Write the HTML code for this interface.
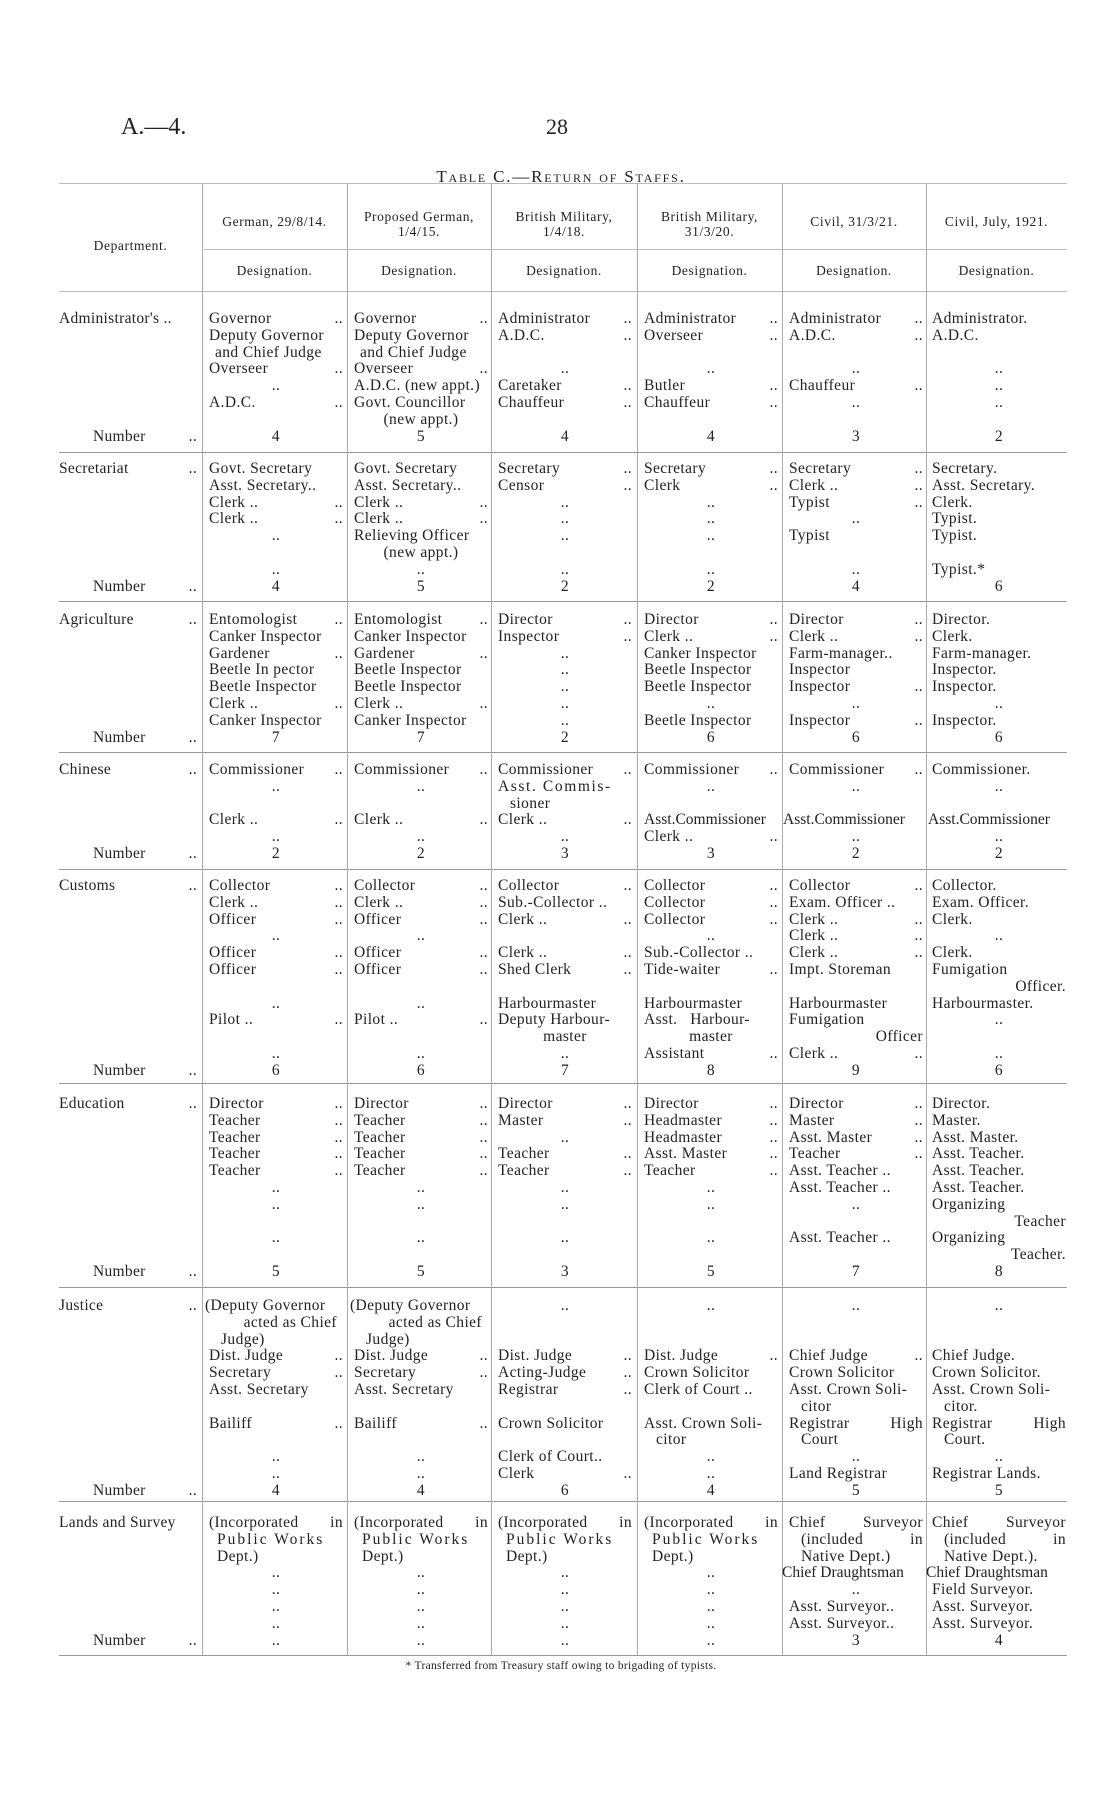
<!DOCTYPE html>
<html><head><meta charset="utf-8"><style>
body{margin:0;background:#fff;}
#p{position:relative;width:1114px;height:1809px;overflow:hidden;background:#fff;font-family:"Liberation Serif",serif;color:#222;}
.a{position:absolute;}
.cell{position:absolute;width:134px;font-size:15.5px;letter-spacing:0.4px;margin-top:3px;}
.d{position:absolute;left:59px;width:138px;font-size:15.5px;letter-spacing:0.3px;margin-top:3px;}
.l{height:16.8px;line-height:16.8px;white-space:nowrap;}
.l i{float:right;font-style:normal;}
.c{text-align:center;}
.r{text-align:right;}
.in{padding-left:12px;}
.h{background:#999;height:1px;position:absolute;}
.v{background:#aaa;width:1px;position:absolute;top:183px;height:1472px;}
.hd{position:absolute;font-size:13.5px;text-align:center;line-height:15px;letter-spacing:0.6px;}
.c1{left:209px}.c2{left:354px}.c3{left:498px}.c4{left:644px}.c5{left:789px}.c6{left:932px}
</style></head><body><div id="p">
<div class="a" style="left:121px;top:114px;font-size:24px;">A.—4.</div>
<div class="a" style="left:546px;top:114px;font-size:22px;">28</div>
<div class="a" style="left:0;width:1122px;top:167px;text-align:center;font-size:17px;font-variant:small-caps;letter-spacing:1.8px;">Table C.—Return of Staffs.</div>

<div class="h" style="left:59px;width:1008px;top:183px;background:#bbb"></div>
<div class="h" style="left:204px;width:863px;top:249px;background:#bbb"></div>
<div class="h" style="left:59px;width:1008px;top:291px;background:#bbb"></div>
<div class="h" style="left:59px;width:1008px;top:452px"></div>
<div class="h" style="left:59px;width:1008px;top:601px"></div>
<div class="h" style="left:59px;width:1008px;top:752px"></div>
<div class="h" style="left:59px;width:1008px;top:869px"></div>
<div class="h" style="left:59px;width:1008px;top:1083px"></div>
<div class="h" style="left:59px;width:1008px;top:1287px"></div>
<div class="h" style="left:59px;width:1008px;top:1501px"></div>
<div class="h" style="left:59px;width:1008px;top:1655px"></div>
<div class="v" style="left:202px"></div><div class="v" style="left:347px"></div><div class="v" style="left:491px"></div><div class="v" style="left:637px"></div><div class="v" style="left:782px"></div><div class="v" style="left:926px"></div>

<div class="hd" style="left:59px;width:143px;top:238px;">Department.</div>
<div class="hd" style="left:202px;width:145px;top:214px;">German, 29/8/14.</div>
<div class="hd" style="left:347px;width:144px;top:209px;">Proposed German,<br>1/4/15.</div>
<div class="hd" style="left:491px;width:146px;top:209px;">British Military,<br>1/4/18.</div>
<div class="hd" style="left:637px;width:145px;top:209px;">British Military,<br>31/3/20.</div>
<div class="hd" style="left:782px;width:144px;top:214px;">Civil, 31/3/21.</div>
<div class="hd" style="left:926px;width:141px;top:214px;">Civil, July, 1921.</div>
<div class="hd" style="left:202px;width:145px;top:263px;">Designation.</div>
<div class="hd" style="left:347px;width:144px;top:263px;">Designation.</div>
<div class="hd" style="left:491px;width:146px;top:263px;">Designation.</div>
<div class="hd" style="left:637px;width:145px;top:263px;">Designation.</div>
<div class="hd" style="left:782px;width:144px;top:263px;">Designation.</div>
<div class="hd" style="left:926px;width:141px;top:263px;">Designation.</div>

<!-- Administrator's -->
<div class="d" style="top:308px"><div class="l">Administrator's ..</div><div class="l"></div><div class="l"></div><div class="l"></div><div class="l"></div><div class="l"></div><div class="l"></div><div class="l in" style="padding-left:34px">Number<i>..</i></div></div>
<div class="cell c1" style="top:308px"><div class="l">Governor<i>..</i></div><div class="l">Deputy Governor</div><div class="l in" style="padding-left:6px">and Chief Judge</div><div class="l">Overseer<i>..</i></div><div class="l c">..</div><div class="l">A.D.C.<i>..</i></div><div class="l"></div><div class="l c">4</div></div>
<div class="cell c2" style="top:308px"><div class="l">Governor<i>..</i></div><div class="l">Deputy Governor</div><div class="l in" style="padding-left:6px">and Chief Judge</div><div class="l">Overseer<i>..</i></div><div class="l">A.D.C. (new appt.)</div><div class="l">Govt. Councillor</div><div class="l c">(new appt.)</div><div class="l c">5</div></div>
<div class="cell c3" style="top:308px"><div class="l">Administrator<i>..</i></div><div class="l">A.D.C.<i>..</i></div><div class="l"></div><div class="l c">..</div><div class="l">Caretaker<i>..</i></div><div class="l">Chauffeur<i>..</i></div><div class="l"></div><div class="l c">4</div></div>
<div class="cell c4" style="top:308px"><div class="l">Administrator<i>..</i></div><div class="l">Overseer<i>..</i></div><div class="l"></div><div class="l c">..</div><div class="l">Butler<i>..</i></div><div class="l">Chauffeur<i>..</i></div><div class="l"></div><div class="l c">4</div></div>
<div class="cell c5" style="top:308px"><div class="l">Administrator<i>..</i></div><div class="l">A.D.C.<i>..</i></div><div class="l"></div><div class="l c">..</div><div class="l">Chauffeur<i>..</i></div><div class="l c">..</div><div class="l"></div><div class="l c">3</div></div>
<div class="cell c6" style="top:308px"><div class="l">Administrator.</div><div class="l">A.D.C.</div><div class="l"></div><div class="l c">..</div><div class="l c">..</div><div class="l c">..</div><div class="l"></div><div class="l c">2</div></div>

<!-- Secretariat -->
<div class="d" style="top:458px"><div class="l">Secretariat<i>..</i></div><div class="l"></div><div class="l"></div><div class="l"></div><div class="l"></div><div class="l"></div><div class="l"></div><div class="l" style="padding-left:34px">Number<i>..</i></div></div>
<div class="cell c1" style="top:458px"><div class="l">Govt. Secretary</div><div class="l">Asst. Secretary..</div><div class="l">Clerk ..<i>..</i></div><div class="l">Clerk ..<i>..</i></div><div class="l c">..</div><div class="l"></div><div class="l c">..</div><div class="l c">4</div></div>
<div class="cell c2" style="top:458px"><div class="l">Govt. Secretary</div><div class="l">Asst. Secretary..</div><div class="l">Clerk ..<i>..</i></div><div class="l">Clerk ..<i>..</i></div><div class="l">Relieving Officer</div><div class="l c">(new appt.)</div><div class="l c">..</div><div class="l c">5</div></div>
<div class="cell c3" style="top:458px"><div class="l">Secretary<i>..</i></div><div class="l">Censor<i>..</i></div><div class="l c">..</div><div class="l c">..</div><div class="l c">..</div><div class="l"></div><div class="l c">..</div><div class="l c">2</div></div>
<div class="cell c4" style="top:458px"><div class="l">Secretary<i>..</i></div><div class="l">Clerk<i>..</i></div><div class="l c">..</div><div class="l c">..</div><div class="l c">..</div><div class="l"></div><div class="l c">..</div><div class="l c">2</div></div>
<div class="cell c5" style="top:458px"><div class="l">Secretary<i>..</i></div><div class="l">Clerk ..<i>..</i></div><div class="l">Typist<i>..</i></div><div class="l c">..</div><div class="l">Typist</div><div class="l"></div><div class="l c">..</div><div class="l c">4</div></div>
<div class="cell c6" style="top:458px"><div class="l">Secretary.</div><div class="l">Asst. Secretary.</div><div class="l">Clerk.</div><div class="l">Typist.</div><div class="l">Typist.</div><div class="l"></div><div class="l">Typist.*</div><div class="l c">6</div></div>

<!-- Agriculture -->
<div class="d" style="top:609px"><div class="l">Agriculture<i>..</i></div><div class="l"></div><div class="l"></div><div class="l"></div><div class="l"></div><div class="l"></div><div class="l"></div><div class="l" style="padding-left:34px">Number<i>..</i></div></div>
<div class="cell c1" style="top:609px"><div class="l">Entomologist<i>..</i></div><div class="l">Canker Inspector</div><div class="l">Gardener<i>..</i></div><div class="l">Beetle In pector</div><div class="l">Beetle Inspector</div><div class="l">Clerk ..<i>..</i></div><div class="l">Canker Inspector</div><div class="l c">7</div></div>
<div class="cell c2" style="top:609px"><div class="l">Entomologist<i>..</i></div><div class="l">Canker Inspector</div><div class="l">Gardener<i>..</i></div><div class="l">Beetle Inspector</div><div class="l">Beetle Inspector</div><div class="l">Clerk ..<i>..</i></div><div class="l">Canker Inspector</div><div class="l c">7</div></div>
<div class="cell c3" style="top:609px"><div class="l">Director<i>..</i></div><div class="l">Inspector<i>..</i></div><div class="l c">..</div><div class="l c">..</div><div class="l c">..</div><div class="l c">..</div><div class="l c">..</div><div class="l c">2</div></div>
<div class="cell c4" style="top:609px"><div class="l">Director<i>..</i></div><div class="l">Clerk ..<i>..</i></div><div class="l">Canker Inspector</div><div class="l">Beetle Inspector</div><div class="l">Beetle Inspector</div><div class="l c">..</div><div class="l">Beetle Inspector</div><div class="l c">6</div></div>
<div class="cell c5" style="top:609px"><div class="l">Director<i>..</i></div><div class="l">Clerk ..<i>..</i></div><div class="l">Farm-manager..</div><div class="l">Inspector</div><div class="l">Inspector<i>..</i></div><div class="l c">..</div><div class="l">Inspector<i>..</i></div><div class="l c">6</div></div>
<div class="cell c6" style="top:609px"><div class="l">Director.</div><div class="l">Clerk.</div><div class="l">Farm-manager.</div><div class="l">Inspector.</div><div class="l">Inspector.</div><div class="l c">..</div><div class="l">Inspector.</div><div class="l c">6</div></div>

<!-- Chinese -->
<div class="d" style="top:759px"><div class="l">Chinese<i>..</i></div><div class="l"></div><div class="l"></div><div class="l"></div><div class="l"></div><div class="l" style="padding-left:34px">Number<i>..</i></div></div>
<div class="cell c1" style="top:759px"><div class="l">Commissioner<i>..</i></div><div class="l c">..</div><div class="l"></div><div class="l">Clerk ..<i>..</i></div><div class="l c">..</div><div class="l c">2</div></div>
<div class="cell c2" style="top:759px"><div class="l">Commissioner<i>..</i></div><div class="l c">..</div><div class="l"></div><div class="l">Clerk ..<i>..</i></div><div class="l c">..</div><div class="l c">2</div></div>
<div class="cell c3" style="top:759px"><div class="l">Commissioner<i>..</i></div><div class="l" style="letter-spacing:1.6px">Asst. Commis-</div><div class="l in">sioner</div><div class="l">Clerk ..<i>..</i></div><div class="l c">..</div><div class="l c">3</div></div>
<div class="cell c4" style="top:759px"><div class="l">Commissioner<i>..</i></div><div class="l c">..</div><div class="l"></div><div class="l" style="letter-spacing:0">Asst.Commissioner</div><div class="l">Clerk ..<i>..</i></div><div class="l c">3</div></div>
<div class="cell c5" style="top:759px"><div class="l">Commissioner<i>..</i></div><div class="l c">..</div><div class="l"></div><div class="l" style="letter-spacing:0;margin-left:-6px">Asst.Commissioner</div><div class="l c">..</div><div class="l c">2</div></div>
<div class="cell c6" style="top:759px"><div class="l">Commissioner.</div><div class="l c">..</div><div class="l"></div><div class="l" style="letter-spacing:0;margin-left:-4px">Asst.Commissioner</div><div class="l c">..</div><div class="l c">2</div></div>

<!-- Customs -->
<div class="d" style="top:875px"><div class="l">Customs<i>..</i></div><div class="l"></div><div class="l"></div><div class="l"></div><div class="l"></div><div class="l"></div><div class="l"></div><div class="l"></div><div class="l"></div><div class="l"></div><div class="l"></div><div class="l" style="padding-left:34px">Number<i>..</i></div></div>
<div class="cell c1" style="top:875px"><div class="l">Collector<i>..</i></div><div class="l">Clerk ..<i>..</i></div><div class="l">Officer<i>..</i></div><div class="l c">..</div><div class="l">Officer<i>..</i></div><div class="l">Officer<i>..</i></div><div class="l"></div><div class="l c">..</div><div class="l">Pilot ..<i>..</i></div><div class="l"></div><div class="l c">..</div><div class="l c">6</div></div>
<div class="cell c2" style="top:875px"><div class="l">Collector<i>..</i></div><div class="l">Clerk ..<i>..</i></div><div class="l">Officer<i>..</i></div><div class="l c">..</div><div class="l">Officer<i>..</i></div><div class="l">Officer<i>..</i></div><div class="l"></div><div class="l c">..</div><div class="l">Pilot ..<i>..</i></div><div class="l"></div><div class="l c">..</div><div class="l c">6</div></div>
<div class="cell c3" style="top:875px"><div class="l">Collector<i>..</i></div><div class="l">Sub.-Collector ..</div><div class="l">Clerk ..<i>..</i></div><div class="l"></div><div class="l">Clerk ..<i>..</i></div><div class="l">Shed Clerk<i>..</i></div><div class="l"></div><div class="l">Harbourmaster</div><div class="l">Deputy Harbour-</div><div class="l c">master</div><div class="l c">..</div><div class="l c">7</div></div>
<div class="cell c4" style="top:875px"><div class="l">Collector<i>..</i></div><div class="l">Collector<i>..</i></div><div class="l">Collector<i>..</i></div><div class="l c">..</div><div class="l">Sub.-Collector ..</div><div class="l">Tide-waiter<i>..</i></div><div class="l"></div><div class="l">Harbourmaster</div><div class="l">Asst.&nbsp;&nbsp;&nbsp;Harbour-</div><div class="l c">master</div><div class="l">Assistant<i>..</i></div><div class="l c">8</div></div>
<div class="cell c5" style="top:875px"><div class="l">Collector<i>..</i></div><div class="l">Exam. Officer ..</div><div class="l">Clerk ..<i>..</i></div><div class="l">Clerk ..<i>..</i></div><div class="l">Clerk ..<i>..</i></div><div class="l">Impt. Storeman</div><div class="l"></div><div class="l">Harbourmaster</div><div class="l">Fumigation</div><div class="l r">Officer</div><div class="l">Clerk ..<i>..</i></div><div class="l c">9</div></div>
<div class="cell c6" style="top:875px"><div class="l">Collector.</div><div class="l">Exam. Officer.</div><div class="l">Clerk.</div><div class="l c">..</div><div class="l">Clerk.</div><div class="l">Fumigation</div><div class="l r">Officer.</div><div class="l">Harbourmaster.</div><div class="l c">..</div><div class="l"></div><div class="l c">..</div><div class="l c">6</div></div>

<!-- Education -->
<div class="d" style="top:1093px"><div class="l">Education<i>..</i></div><div class="l"></div><div class="l"></div><div class="l"></div><div class="l"></div><div class="l"></div><div class="l"></div><div class="l"></div><div class="l"></div><div class="l"></div><div class="l" style="padding-left:34px">Number<i>..</i></div></div>
<div class="cell c1" style="top:1093px"><div class="l">Director<i>..</i></div><div class="l">Teacher<i>..</i></div><div class="l">Teacher<i>..</i></div><div class="l">Teacher<i>..</i></div><div class="l">Teacher<i>..</i></div><div class="l c">..</div><div class="l c">..</div><div class="l"></div><div class="l c">..</div><div class="l"></div><div class="l c">5</div></div>
<div class="cell c2" style="top:1093px"><div class="l">Director<i>..</i></div><div class="l">Teacher<i>..</i></div><div class="l">Teacher<i>..</i></div><div class="l">Teacher<i>..</i></div><div class="l">Teacher<i>..</i></div><div class="l c">..</div><div class="l c">..</div><div class="l"></div><div class="l c">..</div><div class="l"></div><div class="l c">5</div></div>
<div class="cell c3" style="top:1093px"><div class="l">Director<i>..</i></div><div class="l">Master<i>..</i></div><div class="l c">..</div><div class="l">Teacher<i>..</i></div><div class="l">Teacher<i>..</i></div><div class="l c">..</div><div class="l c">..</div><div class="l"></div><div class="l c">..</div><div class="l"></div><div class="l c">3</div></div>
<div class="cell c4" style="top:1093px"><div class="l">Director<i>..</i></div><div class="l">Headmaster<i>..</i></div><div class="l">Headmaster<i>..</i></div><div class="l">Asst. Master<i>..</i></div><div class="l">Teacher<i>..</i></div><div class="l c">..</div><div class="l c">..</div><div class="l"></div><div class="l c">..</div><div class="l"></div><div class="l c">5</div></div>
<div class="cell c5" style="top:1093px"><div class="l">Director<i>..</i></div><div class="l">Master<i>..</i></div><div class="l">Asst. Master<i>..</i></div><div class="l">Teacher<i>..</i></div><div class="l">Asst. Teacher ..</div><div class="l">Asst. Teacher ..</div><div class="l c">..</div><div class="l"></div><div class="l">Asst. Teacher ..</div><div class="l"></div><div class="l c">7</div></div>
<div class="cell c6" style="top:1093px"><div class="l">Director.</div><div class="l">Master.</div><div class="l">Asst. Master.</div><div class="l">Asst. Teacher.</div><div class="l">Asst. Teacher.</div><div class="l">Asst. Teacher.</div><div class="l">Organizing</div><div class="l r">Teacher</div><div class="l">Organizing</div><div class="l r">Teacher.</div><div class="l c">8</div></div>

<!-- Justice -->
<div class="d" style="top:1295px"><div class="l">Justice<i>..</i></div><div class="l"></div><div class="l"></div><div class="l"></div><div class="l"></div><div class="l"></div><div class="l"></div><div class="l"></div><div class="l"></div><div class="l"></div><div class="l"></div><div class="l" style="padding-left:34px">Number<i>..</i></div></div>
<div class="cell c1" style="top:1295px"><div class="l" style="margin-left:-4px">(Deputy Governor</div><div class="l r" style="padding-right:6px">acted as Chief</div><div class="l in">Judge)</div><div class="l">Dist. Judge<i>..</i></div><div class="l">Secretary<i>..</i></div><div class="l">Asst. Secretary</div><div class="l"></div><div class="l">Bailiff<i>..</i></div><div class="l"></div><div class="l c">..</div><div class="l c">..</div><div class="l c">4</div></div>
<div class="cell c2" style="top:1295px"><div class="l" style="margin-left:-4px">(Deputy Governor</div><div class="l r" style="padding-right:6px">acted as Chief</div><div class="l in">Judge)</div><div class="l">Dist. Judge<i>..</i></div><div class="l">Secretary<i>..</i></div><div class="l">Asst. Secretary</div><div class="l"></div><div class="l">Bailiff<i>..</i></div><div class="l"></div><div class="l c">..</div><div class="l c">..</div><div class="l c">4</div></div>
<div class="cell c3" style="top:1295px"><div class="l c">..</div><div class="l"></div><div class="l"></div><div class="l">Dist. Judge<i>..</i></div><div class="l">Acting-Judge<i>..</i></div><div class="l">Registrar<i>..</i></div><div class="l"></div><div class="l">Crown Solicitor</div><div class="l"></div><div class="l">Clerk of Court..</div><div class="l">Clerk<i>..</i></div><div class="l c">6</div></div>
<div class="cell c4" style="top:1295px"><div class="l c">..</div><div class="l"></div><div class="l"></div><div class="l">Dist. Judge<i>..</i></div><div class="l">Crown Solicitor</div><div class="l">Clerk of Court ..</div><div class="l"></div><div class="l">Asst. Crown Soli-</div><div class="l in">citor</div><div class="l c">..</div><div class="l c">..</div><div class="l c">4</div></div>
<div class="cell c5" style="top:1295px"><div class="l c">..</div><div class="l"></div><div class="l"></div><div class="l">Chief Judge<i>..</i></div><div class="l">Crown Solicitor</div><div class="l">Asst. Crown Soli-</div><div class="l in">citor</div><div class="l">Registrar<i>High</i></div><div class="l in">Court</div><div class="l c">..</div><div class="l">Land Registrar</div><div class="l c">5</div></div>
<div class="cell c6" style="top:1295px"><div class="l c">..</div><div class="l"></div><div class="l"></div><div class="l">Chief Judge.</div><div class="l">Crown Solicitor.</div><div class="l">Asst. Crown Soli-</div><div class="l in">citor.</div><div class="l">Registrar<i>High</i></div><div class="l in">Court.</div><div class="l c">..</div><div class="l">Registrar Lands.</div><div class="l c">5</div></div>

<!-- Lands -->
<div class="d" style="top:1512px"><div class="l">Lands and Survey</div><div class="l"></div><div class="l"></div><div class="l"></div><div class="l"></div><div class="l"></div><div class="l"></div><div class="l" style="padding-left:34px">Number<i>..</i></div></div>
<div class="cell c1" style="top:1512px"><div class="l">(Incorporated<i>in</i></div><div class="l in" style="padding-left:8px;letter-spacing:2px">Public Works</div><div class="l in" style="padding-left:8px">Dept.)</div><div class="l c">..</div><div class="l c">..</div><div class="l c">..</div><div class="l c">..</div><div class="l c">..</div></div>
<div class="cell c2" style="top:1512px"><div class="l">(Incorporated<i>in</i></div><div class="l in" style="padding-left:8px;letter-spacing:2px">Public Works</div><div class="l in" style="padding-left:8px">Dept.)</div><div class="l c">..</div><div class="l c">..</div><div class="l c">..</div><div class="l c">..</div><div class="l c">..</div></div>
<div class="cell c3" style="top:1512px"><div class="l">(Incorporated<i>in</i></div><div class="l in" style="padding-left:8px;letter-spacing:2px">Public Works</div><div class="l in" style="padding-left:8px">Dept.)</div><div class="l c">..</div><div class="l c">..</div><div class="l c">..</div><div class="l c">..</div><div class="l c">..</div></div>
<div class="cell c4" style="top:1512px"><div class="l">(Incorporated<i>in</i></div><div class="l in" style="padding-left:8px;letter-spacing:2px">Public Works</div><div class="l in" style="padding-left:8px">Dept.)</div><div class="l c">..</div><div class="l c">..</div><div class="l c">..</div><div class="l c">..</div><div class="l c">..</div></div>
<div class="cell c5" style="top:1512px"><div class="l">Chief<i>Surveyor</i></div><div class="l in">(included<i>in</i></div><div class="l in">Native Dept.)</div><div class="l" style="margin-left:-7px;letter-spacing:0">Chief Draughtsman</div><div class="l c">..</div><div class="l">Asst. Surveyor..</div><div class="l">Asst. Surveyor..</div><div class="l c">3</div></div>
<div class="cell c6" style="top:1512px"><div class="l">Chief<i>Surveyor</i></div><div class="l in">(included<i>in</i></div><div class="l in">Native Dept.).</div><div class="l" style="margin-left:-6px;letter-spacing:0">Chief Draughtsman</div><div class="l">Field Surveyor.</div><div class="l">Asst. Surveyor.</div><div class="l">Asst. Surveyor.</div><div class="l c">4</div></div>

<div class="a" style="left:0;width:1122px;top:1660px;text-align:center;font-size:11.5px;letter-spacing:0.3px;">* Transferred from Treasury staff owing to brigading of typists.</div>
</div></body></html>
